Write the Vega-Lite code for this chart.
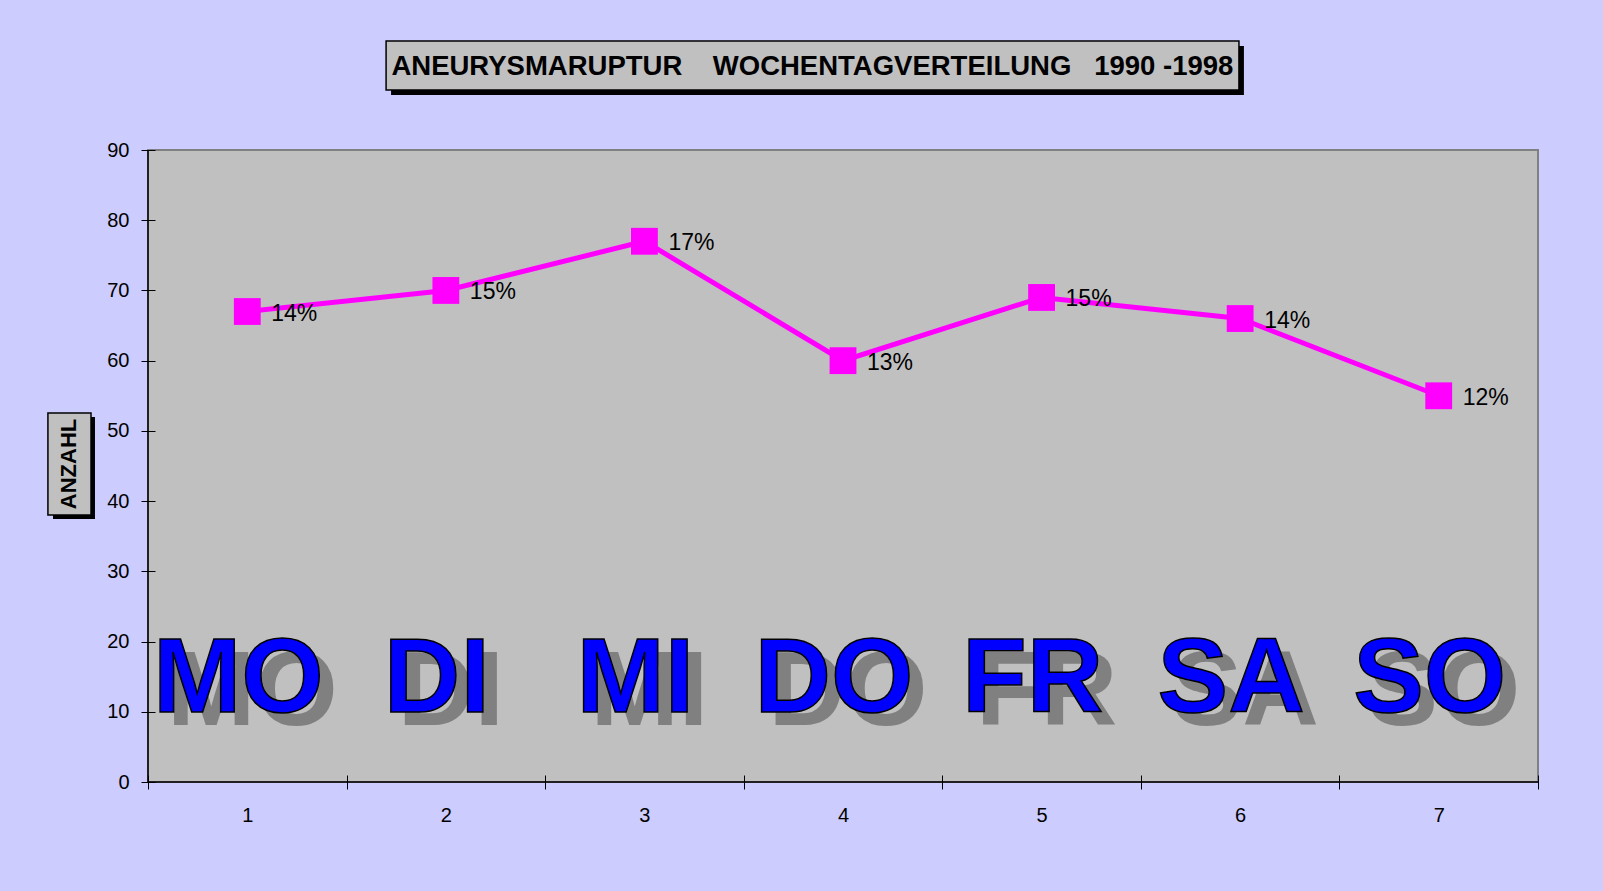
{
  "$schema": "https://vega.github.io/schema/vega-lite/v6.json",
  "width": 1390,
  "height": 632,
  "autosize": {"type": "none"},
  "padding": {"left": 148, "top": 150, "right": 65, "bottom": 109},
  "background": "#CCCCFF",
  "config": {
    "view": {"fill": "#C0C0C0", "stroke": "#808080", "strokeWidth": 2},
    "axis": {
      "labelFont": "Liberation Sans",
      "labelFontSize": 20,
      "labelColor": "#000000",
      "domain": false,
      "tickColor": "#000000",
      "tickWidth": 1,
      "tickSize": 14,
      "offset": -7,
      "grid": false
    }
  },
  "datasets": {
    "tage": [
      {"tag": 1, "wtag": "MO", "anzahl": 67, "anteil": "14%"},
      {"tag": 2, "wtag": "DI", "anzahl": 70, "anteil": "15%"},
      {"tag": 3, "wtag": "MI", "anzahl": 77, "anteil": "17%"},
      {"tag": 4, "wtag": "DO", "anzahl": 60, "anteil": "13%"},
      {"tag": 5, "wtag": "FR", "anzahl": 69, "anteil": "15%"},
      {"tag": 6, "wtag": "SA", "anzahl": 66, "anteil": "14%"},
      {"tag": 7, "wtag": "SO", "anzahl": 55, "anteil": "12%"}
    ],
    "titel": [
      {"text": "ANEURYSMARUPTUR\u00a0\u00a0\u00a0\u00a0WOCHENTAGVERTEILUNG\u00a0\u00a0\u00a01990 -1998", "achse": "ANZAHL"}
    ]
  },
  "layer": [
    {
      "data": {"name": "tage"},
      "mark": {"type": "line", "color": "#FF00FF", "strokeWidth": 5},
      "encoding": {
        "x": {
          "field": "tag",
          "type": "quantitative",
          "scale": {"domain": [0.5, 7.5], "nice": false, "zero": false},
          "axis": {
            "title": null,
            "values": [0.5, 1, 1.5, 2, 2.5, 3, 3.5, 4, 4.5, 5, 5.5, 6, 6.5, 7, 7.5],
            "labelExpr": "datum.value % 1 === 0 ? '' + datum.value : ''",
            "tickOpacity": {"condition": {"test": "datum.value % 1 === 0", "value": 0}, "value": 1},
            "labelPadding": 16,
            "labelFlush": false,
            "labelOverlap": false
          }
        },
        "y": {
          "field": "anzahl",
          "type": "quantitative",
          "scale": {"domain": [0, 90], "nice": false},
          "axis": {
            "title": null,
            "values": [0, 10, 20, 30, 40, 50, 60, 70, 80, 90],
            "labelPadding": 12,
            "labelFlush": false,
            "labelOverlap": false
          }
        }
      }
    },
    {
      "data": {"name": "titel"},
      "mark": {"type": "rule", "color": "#000000", "strokeWidth": 1.5},
      "encoding": {"y": {"datum": 0}}
    },
    {
      "data": {"name": "titel"},
      "mark": {"type": "rule", "color": "#000000", "strokeWidth": 1.5},
      "encoding": {"x": {"datum": 0.5}}
    },
    {
      "data": {"name": "tage"},
      "mark": {"type": "point", "shape": "square", "filled": true, "opacity": 1, "color": "#FF00FF", "size": 720},
      "encoding": {
        "x": {"field": "tag", "type": "quantitative"},
        "y": {"field": "anzahl", "type": "quantitative"}
      }
    },
    {
      "data": {"name": "tage"},
      "mark": {"type": "text", "align": "left", "baseline": "middle", "dx": 24, "dy": 2, "font": "Liberation Sans", "fontSize": 23, "color": "#000000"},
      "encoding": {
        "x": {"field": "tag", "type": "quantitative"},
        "y": {"field": "anzahl", "type": "quantitative"},
        "text": {"field": "anteil"}
      }
    },
    {
      "data": {"name": "tage"},
      "mark": {"type": "text", "align": "center", "baseline": "alphabetic", "dx": 5, "dy": 13, "font": "Liberation Sans", "fontWeight": "bold", "fontSize": 106, "color": "#808080"},
      "encoding": {
        "x": {"field": "tag", "type": "quantitative"},
        "y": {"datum": 10},
        "text": {"field": "wtag"}
      }
    },
    {
      "data": {"name": "tage"},
      "mark": {"type": "text", "align": "center", "baseline": "alphabetic", "dx": -9, "font": "Liberation Sans", "fontWeight": "bold", "fontSize": 106, "fill": "#0000FF", "stroke": "#000000", "strokeWidth": 1.5},
      "encoding": {
        "x": {"field": "tag", "type": "quantitative"},
        "y": {"datum": 10},
        "text": {"field": "wtag"}
      }
    },
    {
      "data": {"name": "titel"},
      "mark": {"type": "rect", "color": "#000000"},
      "encoding": {
        "x": {"datum": 1.724}, "x2": {"datum": 6.019},
        "y": {"datum": 104.81}, "y2": {"datum": 97.83}
      }
    },
    {
      "data": {"name": "titel"},
      "mark": {"type": "rect", "fill": "#C0C0C0", "stroke": "#000000", "strokeWidth": 1.5},
      "encoding": {
        "x": {"datum": 1.699}, "x2": {"datum": 5.994},
        "y": {"datum": 105.52}, "y2": {"datum": 98.54}
      }
    },
    {
      "data": {"name": "titel"},
      "mark": {"type": "text", "align": "center", "baseline": "middle", "dy": 1, "font": "Liberation Sans", "fontWeight": "bold", "fontSize": 27.5, "color": "#000000"},
      "encoding": {
        "x": {"datum": 3.846},
        "y": {"datum": 102.03},
        "text": {"field": "text"}
      }
    },
    {
      "data": {"name": "titel"},
      "mark": {"type": "rect", "color": "#000000"},
      "encoding": {
        "x": {"datum": 0.0216}, "x2": {"datum": 0.233},
        "y": {"datum": 51.98}, "y2": {"datum": 37.45}
      }
    },
    {
      "data": {"name": "titel"},
      "mark": {"type": "rect", "fill": "#C0C0C0", "stroke": "#000000", "strokeWidth": 1.5},
      "encoding": {
        "x": {"datum": -0.004}, "x2": {"datum": 0.213},
        "y": {"datum": 52.55}, "y2": {"datum": 38.02}
      }
    },
    {
      "data": {"name": "titel"},
      "mark": {"type": "text", "align": "center", "baseline": "middle", "angle": 270, "font": "Liberation Sans", "fontWeight": "bold", "fontSize": 22, "color": "#000000"},
      "encoding": {
        "x": {"datum": 0.1},
        "y": {"datum": 45.29},
        "text": {"field": "achse"}
      }
    }
  ]
}
